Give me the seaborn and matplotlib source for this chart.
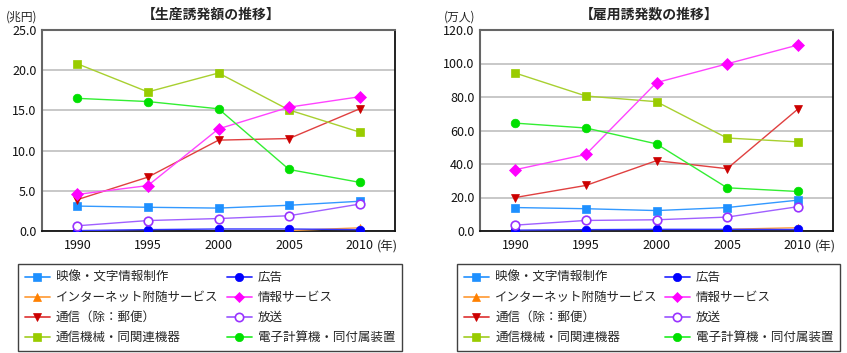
import numpy as np
import pandas as pd
import matplotlib
matplotlib.use("Agg")
import matplotlib.pyplot as plt
import seaborn as sns
from matplotlib.lines import Line2D

sns.set_theme(style="white")
plt.rcParams['font.family'] = ['Noto Sans CJK JP', 'DejaVu Sans']

years = [1990, 1995, 2000, 2005, 2010]
series_names = ["映像・文字情報制作", "インターネット附随サービス", "通信（除：郵便）", "通信機械・同関連機器",
                "広告", "情報サービス", "放送", "電子計算機・同付属装置"]

# 生産誘発額 (兆円)
prod_eizo = [3.1, 2.95, 2.85, 3.2, 3.7]
prod_internet = [np.nan, np.nan, np.nan, 0.05, 0.4]
prod_tsushin = [3.9, 6.7, 11.3, 11.5, 15.2]
prod_kiki = [20.8, 17.3, 19.65, 15.05, 12.3]
prod_kokoku = [0.05, 0.17, 0.25, 0.25, 0.17]
prod_joho = [4.55, 5.65, 12.7, 15.4, 16.7]
prod_hoso = [0.65, 1.3, 1.55, 1.9, 3.35]
prod_denshi = [16.5, 16.1, 15.2, 7.65, 6.05]

# 雇用誘発数 (万人)
emp_eizo = [14.0, 13.3, 12.2, 14.0, 18.4]
emp_internet = [np.nan, np.nan, np.nan, 1.0, 2.0]
emp_tsushin = [20.0, 27.2, 42.0, 37.2, 72.7]
emp_kiki = [94.3, 80.6, 77.2, 55.5, 53.2]
emp_kokoku = [0.5, 0.8, 1.0, 1.0, 0.9]
emp_joho = [36.6, 45.7, 88.6, 99.8, 111.0]
emp_hoso = [3.5, 6.3, 6.7, 8.3, 14.5]
emp_denshi = [64.4, 61.5, 52.0, 25.8, 23.6]

prod_values = [prod_eizo, prod_internet, prod_tsushin, prod_kiki,
               prod_kokoku, prod_joho, prod_hoso, prod_denshi]
emp_values = [emp_eizo, emp_internet, emp_tsushin, emp_kiki,
              emp_kokoku, emp_joho, emp_hoso, emp_denshi]

line_colors = ["#3399FF", "#FFA040", "#E04040", "#A8D030", "#3333FF", "#FF44FF", "#A060FF", "#33EE33"]
marker_colors = ["#1E90FF", "#FF8000", "#CC0000", "#99CC00", "#0000FF", "#FF00FF", "#9933FF", "#00E000"]
markers = ["s", "^", "v", "s", "o", "D", "o", "o"]
open_marker = [False, False, False, False, False, False, True, False]
draw_order = [3, 7, 5, 2, 0, 6, 1, 4]

fig = plt.figure(figsize=(8.47, 3.53), dpi=100)
W, H = 847, 353

def make_axes(x0, x1, y0, y1):
    return fig.add_axes([x0 / W, 1 - y1 / H, (x1 - x0) / W, (y1 - y0) / H])

def draw_panel(ax, values, ymax, ystep, title, unit):
    for i in draw_order:
        df = pd.DataFrame({"year": years, "value": values[i]}).dropna()
        fc = "white" if open_marker[i] else marker_colors[i]
        sns.lineplot(data=df, x="year", y="value", ax=ax, color=line_colors[i],
                     marker=markers[i], markersize=6.2 if markers[i] != "D" else 6,
                     markerfacecolor=fc, markeredgecolor=marker_colors[i],
                     markeredgewidth=1.2 if open_marker[i] else 0.5,
                     linewidth=1.0, zorder=3 + i * 0.1)
    ax.set_xlim(1987.5, 2012.5)
    ax.set_ylim(0, ymax)
    ax.set_xticks(years)
    ax.set_xticklabels([str(y) for y in years])
    ticks = np.arange(0, ymax + 0.001, ystep)
    ax.set_yticks(ticks)
    ax.set_yticklabels([f"{t:.1f}" for t in ticks])
    ax.tick_params(axis="both", length=0, labelsize=9, colors="#111111", pad=4)
    ax.tick_params(axis="x", pad=6)
    ax.set_xlabel("")
    ax.set_ylabel("")
    ax.grid(axis="y", color="#C4C4C4", linewidth=1.3)
    ax.set_axisbelow(True)
    for side in ["left", "top"]:
        ax.spines[side].set_color("#666666")
        ax.spines[side].set_linewidth(1.5)
    for side in ["right", "bottom"]:
        ax.spines[side].set_color("#111111")
        ax.spines[side].set_linewidth(1.3)
    ax.text(0.48, 1.04, title, transform=ax.transAxes, ha="center", va="bottom",
            fontsize=10, fontweight="semibold")
    ax.text(-0.012, 1.03, unit, transform=ax.transAxes, ha="right", va="bottom", fontsize=8.5)
    ax.text(2010 + 1.2, -0.045 * ymax, "(年)", ha="left", va="top", fontsize=9)

ax1 = make_axes(42, 395, 30, 231)
draw_panel(ax1, prod_values, 25, 5, "【生産誘発額の推移】", "(兆円)")
ax2 = make_axes(480, 833, 30, 231)
draw_panel(ax2, emp_values, 120, 20, "【雇用誘発数の推移】", "(万人)")

handles = []
for i in range(8):
    fc = "white" if open_marker[i] else marker_colors[i]
    handles.append(Line2D([0], [0], color=line_colors[i], marker=markers[i],
                          markersize=6 if markers[i] != "D" else 5.5,
                          markerfacecolor=fc, markeredgecolor=marker_colors[i],
                          markeredgewidth=1.2 if open_marker[i] else 0.5, linewidth=1.3))

for (x0, x1) in [(18, 402), (457, 840)]:
    y0, y1 = 264, 348
    leg = fig.legend(handles, series_names, ncol=2, loc="upper left",
                     bbox_to_anchor=(x0 / W, 1 - y1 / H, (x1 - x0) / W, (y1 - y0) / H),
                     mode="expand", fontsize=9, frameon=True, fancybox=False,
                     edgecolor="#111111", borderpad=0.55, labelspacing=0.56,
                     handlelength=2.0, handletextpad=0.5, columnspacing=1.0,
                     borderaxespad=0)
    leg.get_frame().set_linewidth(1.0)

fig.savefig("out.png", dpi=100)
